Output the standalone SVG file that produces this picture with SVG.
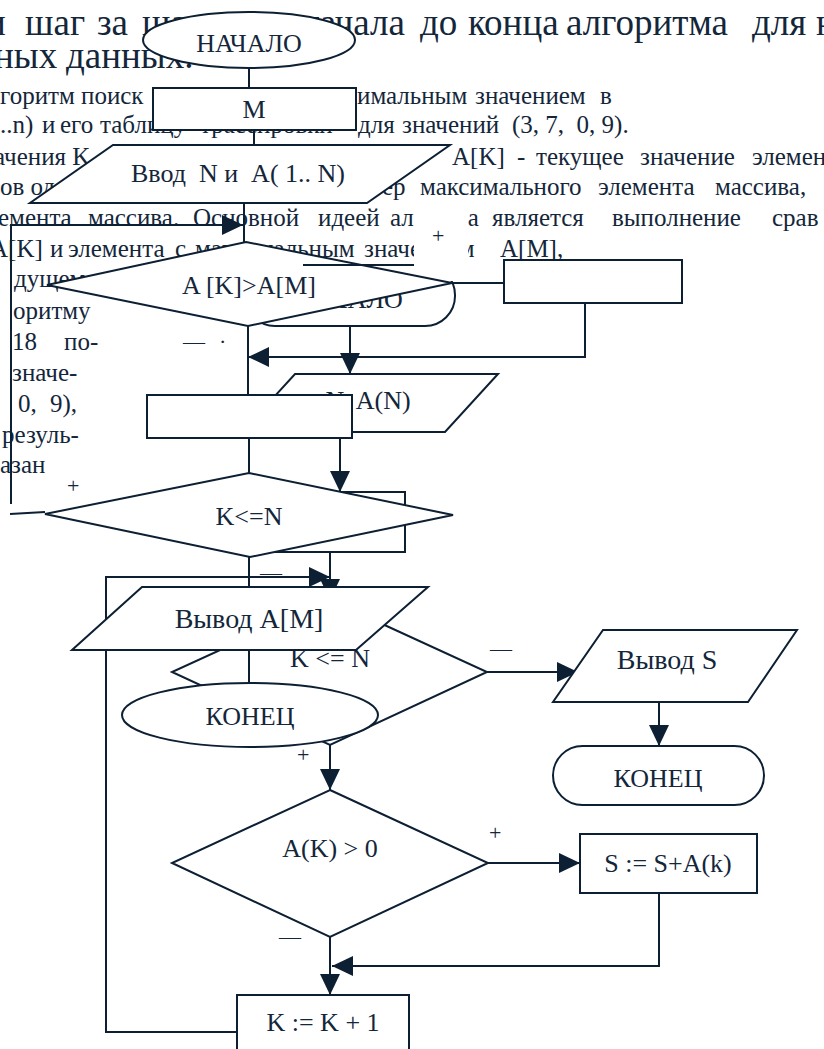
<svg xmlns="http://www.w3.org/2000/svg" width="824" height="1049" viewBox="0 0 824 1049">
<style>
  .pg { font-family: "Liberation Serif", "DejaVu Serif", serif; fill: #13263a; }
  .h { font-size: 37px; }
  .s { font-size: 25px; }
  .sh { fill: #fff; stroke: #0c1f33; stroke-width: 2; }
  .ln { fill: none; stroke: #0c1f33; stroke-width: 2; }
  .ar { marker-end: url(#arr); }
  .lb { font-family: "Liberation Serif", "DejaVu Serif", serif; font-size: 26px; fill: #13263a; text-anchor: middle; }
  .big { font-size: 28px; }
  .mk { font-family: "Liberation Serif", "DejaVu Serif", serif; font-size: 22px; fill: #13263a; }
  .frame { fill: #fff; stroke: none; }
</style>
<defs>
  <marker id="arr" markerWidth="22" markerHeight="20" refX="21" refY="10" orient="auto" markerUnits="userSpaceOnUse">
    <path d="M0,0 L21,10 L0,20 Z" fill="#0c1f33"/>
  </marker>
</defs>
<rect width="824" height="1049" fill="#fff"/>

<!-- page text behind the flowcharts -->
<g id="page-text" class="pg">
  <text class="h" y="35"><tspan x="-14">и</tspan><tspan x="25">шаг</tspan><tspan x="97">за</tspan><tspan x="142">шагом</tspan><tspan x="258">от</tspan><tspan x="300">начала</tspan><tspan x="420">до</tspan><tspan x="468">конца</tspan><tspan x="566">алгоритма</tspan><tspan x="752">для</tspan><tspan x="816">н</tspan></text>
  <text class="h" y="68"><tspan x="-6">ных</tspan><tspan x="66">данных.</tspan></text>
  <text class="s" y="104"><tspan x="0">горитм поиск</tspan><tspan x="357">имальным</tspan><tspan x="475">значением</tspan><tspan x="600">в</tspan></text>
  <text class="s" y="133"><tspan x="0">..n)</tspan><tspan x="42">и</tspan><tspan x="60">его</tspan><tspan x="100">таблицу</tspan><tspan x="200">трассировки</tspan><tspan x="358">для</tspan><tspan x="402">значений</tspan><tspan x="512" xml:space="preserve">(3, 7,  0, 9).</tspan></text>
  <text class="s" y="165"><tspan x="-6">ачения K</tspan><tspan x="452">A[K]</tspan><tspan x="517">-</tspan><tspan x="536">текущее</tspan><tspan x="640">значение</tspan><tspan x="752">элемен</tspan></text>
  <text class="s" y="195"><tspan x="0">ов од</tspan><tspan x="382">ер</tspan><tspan x="420">максимального</tspan><tspan x="598">элемента</tspan><tspan x="715">массива,</tspan></text>
  <text class="s" y="226"><tspan x="-2">емента</tspan><tspan x="88">массива.</tspan><tspan x="193">Основной</tspan><tspan x="318">идеей</tspan><tspan x="390">ал</tspan><tspan x="452">ма</tspan><tspan x="492">является</tspan><tspan x="612">выполнение</tspan><tspan x="772">срав</tspan></text>
  <text class="s" y="257"><tspan x="-10">A[K]</tspan><tspan x="50">и</tspan><tspan x="68">элемента</tspan><tspan x="175">с</tspan><tspan x="195">максимальным</tspan><tspan x="364">значением</tspan><tspan x="500">A[M],</tspan></text>
  <text class="s" y="287" x="14">дущем</text>
  <text class="s" y="319" x="13">оритму</text>
  <text class="s" y="350"><tspan x="12">18</tspan><tspan x="64">по-</tspan></text>
  <text class="s" y="381" x="12">значе-</text>
  <text class="s" y="412"><tspan x="18">0,</tspan><tspan x="50">9),</tspan></text>
  <text class="s" y="443" x="2">резуль-</text>
  <text class="s" y="473" x="0">азан</text>
</g>

<!-- sum-of-positives flowchart (lower layer) -->
<g id="sum-connectors" class="ln">
  <path class="ar" d="M350,326 V374"/>
  <path class="ar" d="M340,432 V492"/>
  <path class="ar" d="M330,552 V600"/>
  <path class="ar" d="M487,672 H578"/>
  <path class="ar" d="M659,702 V746"/>
  <path class="ar" d="M330,745 V790"/>
  <path class="ar" d="M488,863 H580"/>
  <path class="ar" d="M659,893 V966 H332"/>
  <path class="ar" d="M330,937 V995"/>
  <path class="ar" d="M237,1032 H106 V577 H330"/>
</g>
<g id="sum-start">
  <rect class="sh" x="245" y="265" width="210" height="61" rx="30"/>
  <text class="lb" x="350" y="308">НАЧАЛО</text>
</g>
<g id="sum-input">
  <path class="sh" d="M295,374 L498,374 L445,432 L242,432 Z"/>
  <text class="lb" x="368" y="409">N, A(N)</text>
</g>
<g id="sum-init">
  <rect class="sh" x="270" y="492" width="135" height="60"/>
</g>
<g id="sum-loop-test">
  <path class="sh" d="M330,600 L487,672 L330,745 L172,672 Z"/>
  <text class="lb" x="330" y="667">K &lt;= N</text>
</g>
<g id="sum-output">
  <path class="sh" d="M603,630 L797,630 L748,702 L553,702 Z"/>
  <text class="lb big" x="667" y="669">Вывод S</text>
</g>
<g id="sum-end">
  <rect class="sh" x="553" y="746" width="211" height="59" rx="29.5"/>
  <text class="lb" x="658" y="787">КОНЕЦ</text>
</g>
<g id="sum-positive-test">
  <path class="sh" d="M330,790 L488,863 L330,937 L172,863 Z"/>
  <text class="lb" x="330" y="857">A(K) &gt; 0</text>
</g>
<g id="sum-add">
  <rect class="sh" x="580" y="834" width="177" height="59"/>
  <text class="lb" x="668" y="872">S := S+A(k)</text>
</g>
<g id="sum-step">
  <rect class="sh" x="237" y="995" width="172" height="70"/>
  <text class="lb" x="323" y="1031">K := K + 1</text>
</g>
<g id="sum-labels" class="mk">
  <text x="490" y="656">—</text>
  <text x="297" y="762">+</text>
  <text x="489" y="840">+</text>
  <text x="279" y="944">—</text>
</g>

<!-- label boxes of the max-search flowchart -->
<g id="label-boxes">
  <rect class="frame" x="414" y="203" width="54" height="78"/>
  <rect class="frame" x="47" y="461" width="61" height="42"/>
</g>

<!-- max-search flowchart (upper layer) -->
<g id="max-connectors" class="ln">
  <path d="M249,68 V88"/>
  <path d="M254,130 V145"/>
  <path d="M244,203 V245"/>
  <path class="ar" d="M11,504 V225 H243"/>
  <path d="M45,512 L10,514"/>
  <path d="M452,283 H504"/>
  <path class="ar" d="M585,303 V357 H248"/>
  <path d="M248,326 V395"/>
  <path d="M249,438 V473"/>
  <path d="M249,557 V587"/>
  <path d="M249,650 V683"/>
</g>
<g id="max-start">
  <ellipse class="sh" cx="249" cy="40" rx="106" ry="28"/>
  <text class="lb" x="249" y="52">НАЧАЛО</text>
</g>
<g id="max-init">
  <rect class="sh" x="153" y="88" width="203" height="42"/>
  <text class="lb" x="254" y="118">M</text>
</g>
<g id="max-input">
  <path class="sh" d="M113,145 L450,145 L367,203 L30,203 Z"/>
  <text class="lb" x="238" y="182" xml:space="preserve">Ввод  N и  A( 1.. N)</text>
</g>
<g id="max-compare">
  <path class="sh" d="M246,242 L452,283 L248,326 L47,285 Z"/>
  <text class="lb" x="249" y="294">A [K]&gt;A[M]</text>
</g>
<g id="max-assign">
  <rect class="sh" x="504" y="260" width="178" height="43"/>
</g>
<g id="max-step">
  <rect class="sh" x="147" y="395" width="205" height="43"/>
</g>
<g id="max-loop-test">
  <path class="sh" d="M249,473 L453,515 L250,557 L45,514 Z"/>
  <text class="lb" x="249" y="525">K&lt;=N</text>
</g>
<g id="max-output">
  <path class="sh" d="M142,587 L428,587 L356,650 L72,650 Z"/>
  <text class="lb big" x="249" y="628">Вывод A[M]</text>
</g>
<g id="max-end">
  <ellipse class="sh" cx="250" cy="715" rx="128" ry="32"/>
  <text class="lb" x="250" y="725">КОНЕЦ</text>
</g>
<g id="max-extra-lines" class="ln">
  <path d="M303,265 H414"/>
</g>
<g id="max-labels" class="mk">
  <text x="432" y="243">+</text>
  <text x="183" y="349">—</text>
  <text x="219" y="349">·</text>
  <text x="67" y="493">+</text>
  <text x="260" y="580">—</text>
</g>
</svg>
